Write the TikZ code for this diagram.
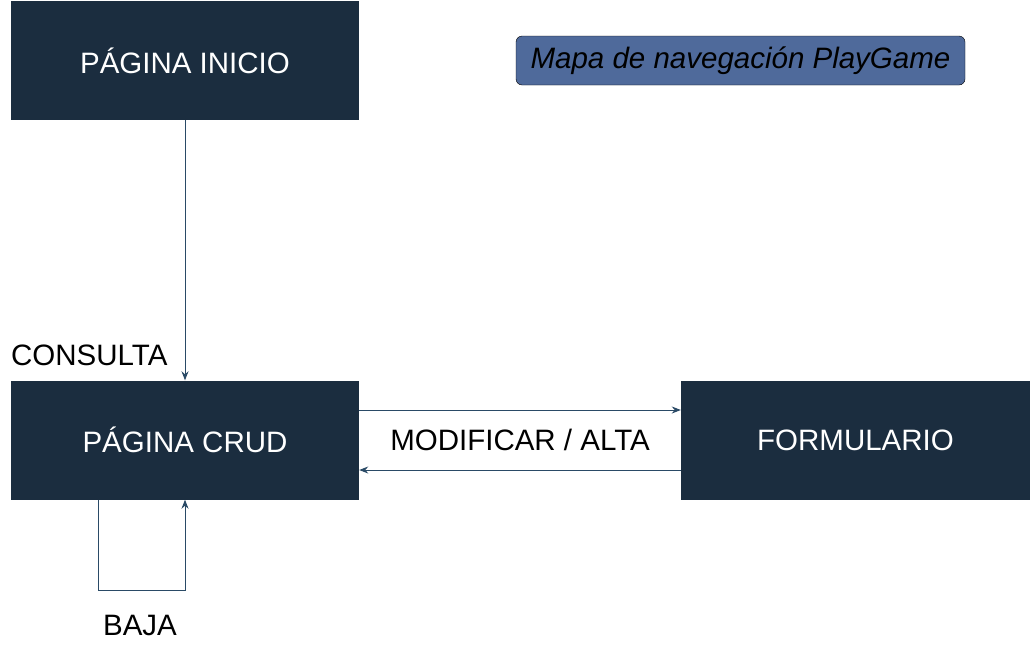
\documentclass[tikz,border=0pt]{standalone}
\usepackage{fontspec}
\setmainfont{Liberation Sans}
\usetikzlibrary{arrows.meta}
\definecolor{navy}{HTML}{1B2D3F}
\definecolor{titlefill}{HTML}{4F6A9B}
\definecolor{linkcol}{HTML}{2A4A66}

\begin{document}
\begin{tikzpicture}[x=1pt,y=-1pt]
        \tikzstyle{every node} = [font=\fontsize{29.5}{34}\selectfont]
        \tikzstyle{page} = [rectangle, fill=navy, text=white, minimum width=348pt, minimum height=119pt, inner sep=0pt]
        \tikzstyle{link} = [draw=linkcol, line width=1pt, -{Stealth[length=9pt,width=7pt]}]
        \useasboundingbox (0,0) rectangle (1031,651);

        \node[page] (inicio) at (185,60.5) {PÁGINA INICIO};
        \node[page] (crud) at (185,440) {PÁGINA CRUD};
        \node[page, minimum width=349pt] (form) at (855.5,440) {FORMULARIO};
        \node[rectangle, rounded corners=6pt, draw=black, fill=titlefill, minimum width=449pt, minimum height=49pt, inner sep=0pt, font=\fontsize{29.5}{34}\selectfont\itshape] (titulo) at (740.5,60.5) {Mapa de navegación PlayGame};

        \node[anchor=west, inner sep=0pt] (consulta) at (11,355) {CONSULTA};
        \node (modalta) at (520,440) {MODIFICAR / ALTA};
        \node (baja) at (140,625) {BAJA};

        \coordinate (bajaL) at (98,590);
        \coordinate (bajaR) at (185,590);

        \draw[link] (inicio) -- (crud);
        \draw[link] ([yshift=30pt]crud.east) -- ([yshift=30pt]form.west);
        \draw[link] ([yshift=-30pt]form.west) -- ([yshift=-30pt]crud.east);
        \draw[link] (crud.south -| bajaL) -- (bajaL) -- (bajaR) -- (crud.south);
\end{tikzpicture}
\end{document}
